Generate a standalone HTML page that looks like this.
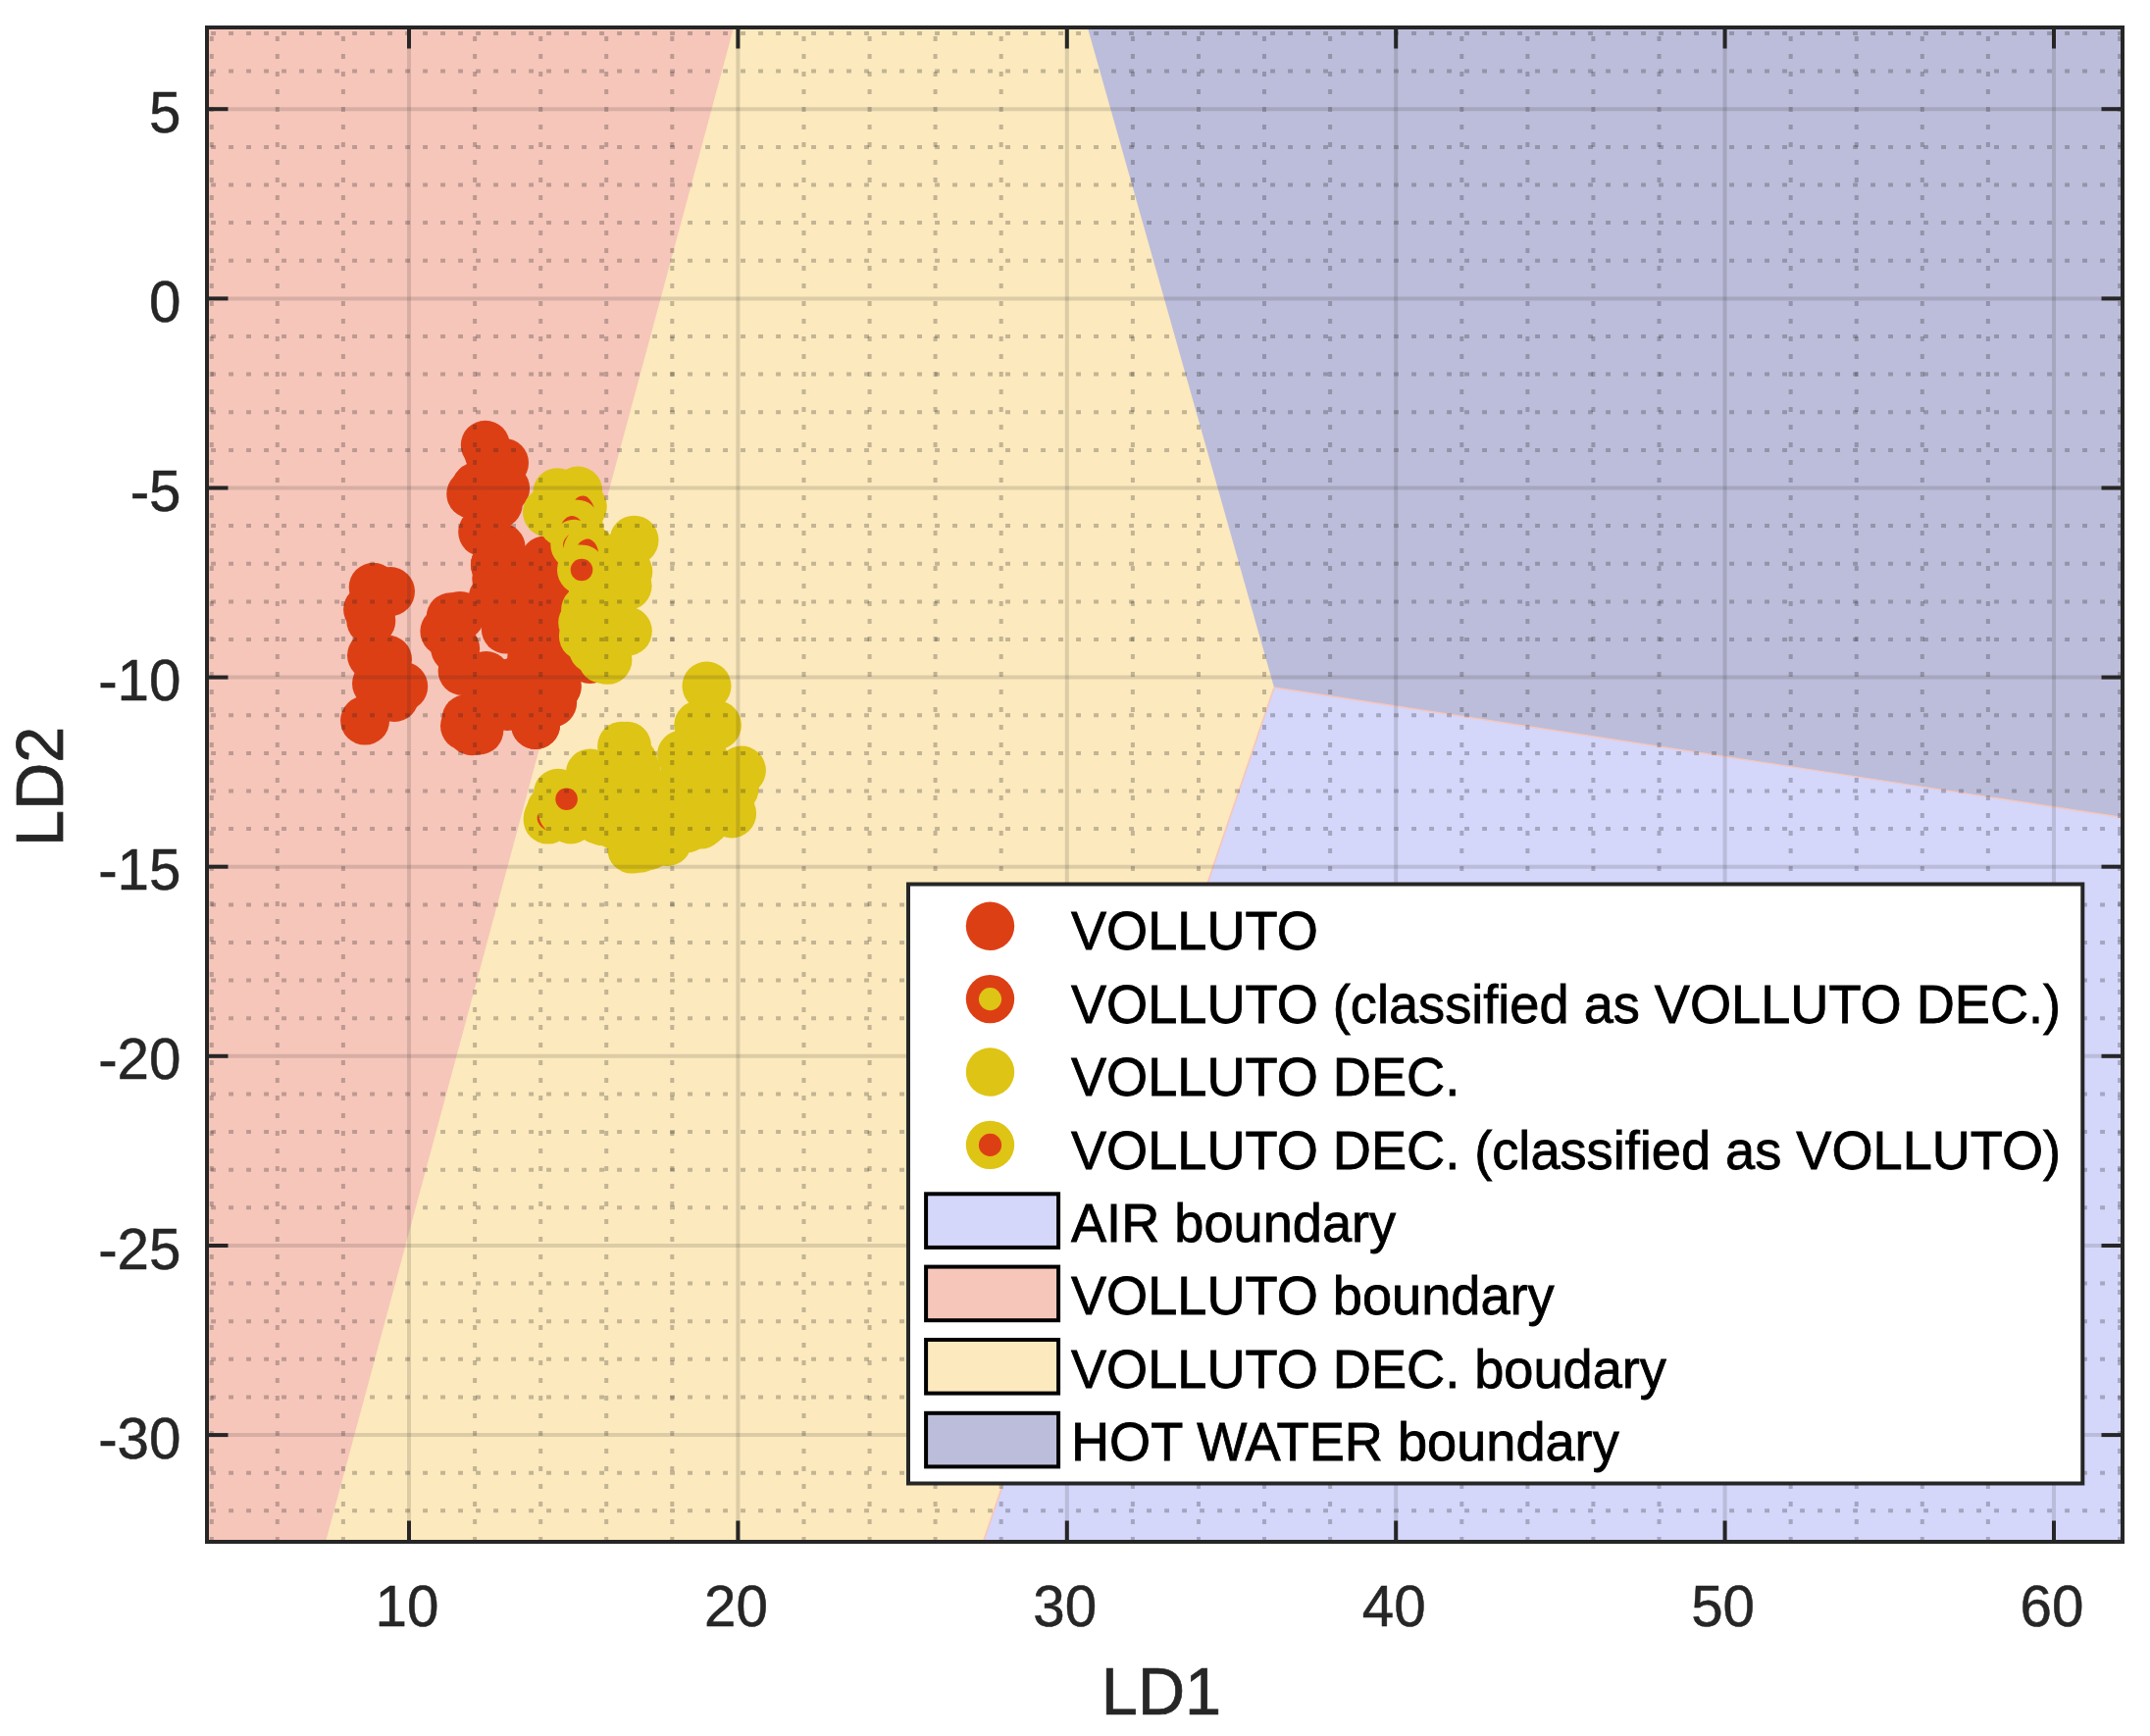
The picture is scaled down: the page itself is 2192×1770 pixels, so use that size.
<!DOCTYPE html><html><head><meta charset="utf-8"><title>LD1 LD2</title>
<style>html,body{margin:0;padding:0;background:#fff;overflow:hidden}svg{display:block}text{font-family:"Liberation Sans",Arial,sans-serif}</style></head><body>
<svg width="2192" height="1770" viewBox="0 0 2192 1770">
<rect x="0" y="0" width="2192" height="1770" fill="#fff"/>
<g id="regions">
<rect x="211.0" y="28.0" width="1953.0" height="1544.0" fill="#FCE9BD"/>
<polygon points="211.0,28.0 748.0,28.0 332.0,1572.0 211.0,1572.0" fill="#F6C6BA"/>
<polygon points="1299.0,701.0 1339.0,641.0 2164.0,773.5 2164.0,1572.0 1002.5,1572.0" fill="#D4D6FA"/>
<polyline points="1002.5,1572.0 1299.0,701.0" fill="none" stroke="#F6C6BA" stroke-width="1.6"/>
<polygon points="1108.8,28.0 2164.0,28.0 2164.0,833.5 1299.0,701.0" fill="#BCBDDA"/>
<polyline points="1299.0,701.0 2164.0,833.5" fill="none" stroke="#F6C6BA" stroke-width="1.4"/>
</g>
<g id="markers">
<g fill="#DD3F15">
<circle cx="380.7" cy="598.8" r="25"/>
<circle cx="398.0" cy="603.1" r="25"/>
<circle cx="375.1" cy="621.4" r="25"/>
<circle cx="378.3" cy="632.9" r="25"/>
<circle cx="395.0" cy="672.5" r="25"/>
<circle cx="379.0" cy="668.2" r="25"/>
<circle cx="411.2" cy="699.9" r="25"/>
<circle cx="384.0" cy="697.0" r="25"/>
<circle cx="402.0" cy="711.0" r="25"/>
<circle cx="372.1" cy="734.6" r="25"/>
<circle cx="504.9" cy="576.0" r="25"/>
<circle cx="510.0" cy="568.8" r="25"/>
<circle cx="507.2" cy="597.6" r="25"/>
<circle cx="558.3" cy="571.4" r="25"/>
<circle cx="459.6" cy="629.3" r="25"/>
<circle cx="453.4" cy="643.7" r="25"/>
<circle cx="469.0" cy="627.9" r="25"/>
<circle cx="459.6" cy="649.5" r="25"/>
<circle cx="464.2" cy="661.3" r="25"/>
<circle cx="471.6" cy="684.0" r="25"/>
<circle cx="475.5" cy="733.0" r="25"/>
<circle cx="474.0" cy="740.2" r="25"/>
<circle cx="481.2" cy="745.2" r="25"/>
<circle cx="488.4" cy="744.5" r="25"/>
<circle cx="546.0" cy="738.9" r="25"/>
<circle cx="567.6" cy="699.9" r="25"/>
<circle cx="560.4" cy="717.2" r="25"/>
<circle cx="515.8" cy="641.5" r="25"/>
<circle cx="495.6" cy="689.1" r="25"/>
<circle cx="515.8" cy="697.0" r="25"/>
<circle cx="542.3" cy="669.6" r="25"/>
<circle cx="502.8" cy="609.1" r="25"/>
<circle cx="543.2" cy="609.1" r="25"/>
<circle cx="548.9" cy="633.6" r="25"/>
<circle cx="554.7" cy="655.2" r="25"/>
<circle cx="560.4" cy="676.8" r="25"/>
<circle cx="517.2" cy="720.0" r="25"/>
<circle cx="502.8" cy="712.8" r="25"/>
<circle cx="531.6" cy="712.8" r="25"/>
<circle cx="495.6" cy="717.2" r="25"/>
<circle cx="531.6" cy="691.2" r="25"/>
<circle cx="538.8" cy="648.0" r="25"/>
<circle cx="528.8" cy="626.4" r="25"/>
<circle cx="494.8" cy="453.8" r="25"/>
<circle cx="514.0" cy="471.9" r="25"/>
<circle cx="480.3" cy="503.6" r="25"/>
<circle cx="485.5" cy="496.4" r="25"/>
<circle cx="498.4" cy="461.9" r="25"/>
<circle cx="515.1" cy="497.9" r="25"/>
<circle cx="507.8" cy="513.7" r="25"/>
<circle cx="492.2" cy="542.5" r="25"/>
<circle cx="510.7" cy="558.4" r="25"/>
<circle cx="504.9" cy="575.6" r="25"/>
<circle cx="506.3" cy="590.0" r="25"/>
<circle cx="555.3" cy="571.6" r="25"/>
<circle cx="499.1" cy="482.0" r="25"/>
<circle cx="497.7" cy="525.2" r="25"/>
<circle cx="552.4" cy="590.0" r="25"/>
<circle cx="555.3" cy="604.4" r="25"/>
<circle cx="552.4" cy="623.2" r="25"/>
<circle cx="539.5" cy="597.2" r="25"/>
<circle cx="530.8" cy="618.8" r="25"/>
<circle cx="559.6" cy="640.4" r="25"/>
<circle cx="538.0" cy="647.6" r="25"/>
<circle cx="567.7" cy="699.9" r="25"/>
<circle cx="563.2" cy="716.3" r="25"/>
<circle cx="546.1" cy="738.9" r="25"/>
<circle cx="601.4" cy="672.0" r="25"/>
</g>
<g fill="#DEC415">
<circle cx="568.3" cy="502.2" r="25"/>
<circle cx="589.2" cy="500.5" r="25"/>
<circle cx="558.0" cy="522.3" r="25"/>
<circle cx="586.3" cy="555.5" r="25"/>
<circle cx="593.0" cy="581.0" r="25"/>
<circle cx="597.1" cy="621.7" r="25"/>
<circle cx="594.2" cy="634.7" r="25"/>
<circle cx="593.8" cy="516.6" r="25"/>
<circle cx="590.6" cy="539.6" r="25"/>
<circle cx="646.5" cy="550.7" r="25"/>
<circle cx="640.3" cy="582.8" r="25"/>
<circle cx="639.6" cy="597.2" r="25"/>
<circle cx="638.8" cy="643.3" r="25"/>
<circle cx="574.0" cy="532.4" r="25"/>
<circle cx="618.7" cy="574.2" r="25"/>
<circle cx="617.2" cy="597.2" r="25"/>
<circle cx="617.2" cy="626.0" r="25"/>
<circle cx="610.0" cy="647.6" r="25"/>
<circle cx="602.8" cy="561.2" r="25"/>
<circle cx="619.4" cy="672.8" r="25"/>
<circle cx="639.8" cy="643.6" r="25"/>
<circle cx="594.9" cy="648.6" r="25"/>
<circle cx="605.0" cy="661.6" r="25"/>
<circle cx="614.3" cy="671.7" r="25"/>
<circle cx="620.8" cy="651.5" r="25"/>
<circle cx="720.5" cy="699.5" r="25"/>
<circle cx="712.3" cy="739.4" r="25"/>
<circle cx="730.9" cy="739.4" r="25"/>
<circle cx="695.0" cy="769.6" r="25"/>
<circle cx="755.9" cy="785.5" r="25"/>
<circle cx="746.1" cy="829.4" r="25"/>
<circle cx="714.4" cy="840.6" r="25"/>
<circle cx="634.1" cy="760.7" r="25"/>
<circle cx="639.0" cy="760.7" r="25"/>
<circle cx="645.3" cy="776.8" r="25"/>
<circle cx="648.9" cy="786.9" r="25"/>
<circle cx="601.8" cy="788.4" r="25"/>
<circle cx="569.0" cy="808.8" r="25"/>
<circle cx="577.6" cy="814.7" r="25"/>
<circle cx="561.8" cy="825.8" r="25"/>
<circle cx="559.0" cy="833.0" r="25"/>
<circle cx="558.6" cy="835.6" r="25"/>
<circle cx="581.9" cy="835.4" r="25"/>
<circle cx="609.3" cy="835.4" r="25"/>
<circle cx="615.1" cy="837.3" r="25"/>
<circle cx="620.8" cy="812.8" r="25"/>
<circle cx="635.2" cy="805.6" r="25"/>
<circle cx="649.6" cy="820.0" r="25"/>
<circle cx="664.0" cy="827.2" r="25"/>
<circle cx="678.4" cy="812.8" r="25"/>
<circle cx="692.8" cy="820.0" r="25"/>
<circle cx="707.2" cy="805.6" r="25"/>
<circle cx="728.8" cy="798.4" r="25"/>
<circle cx="718.8" cy="776.8" r="25"/>
<circle cx="664.0" cy="848.8" r="25"/>
<circle cx="685.6" cy="848.8" r="25"/>
<circle cx="628.0" cy="841.6" r="25"/>
<circle cx="700.0" cy="844.5" r="25"/>
<circle cx="592.0" cy="820.0" r="25"/>
<circle cx="721.6" cy="820.0" r="25"/>
<circle cx="697.2" cy="792.7" r="25"/>
<circle cx="644.2" cy="865.6" r="25"/>
<circle cx="652.5" cy="864.7" r="25"/>
<circle cx="660.9" cy="862.2" r="25"/>
<circle cx="680.3" cy="858.0" r="25"/>
<circle cx="719.0" cy="836.8" r="25"/>
<circle cx="748.6" cy="804.2" r="25"/>
</g>
<g fill="#DD3F15">
<path d="M586.27,509.38 C589.87,505.78 595.63,503.62 599.96,507.94 C603.56,511.54 605.00,515.14 605.72,518.02 C602.84,512.98 597.07,509.38 586.27,509.38 Z" />
<path d="M572.59,533.87 C575.47,528.10 579.79,525.94 583.39,525.94 C586.99,526.38 589.87,528.10 592.03,530.99 C588.43,529.26 579.79,528.39 572.59,533.87 Z" />
<path d="M589.15,555.47 C592.03,551.15 597.07,548.56 601.40,549.71 C606.44,551.87 609.32,556.91 610.04,562.67 C606.44,558.35 599.96,554.75 589.15,555.47 Z" />
<path d="M580.08,545.10 C574.75,549.71 573.31,554.03 574.46,558.64 C575.18,554.03 576.62,549.71 580.08,545.10 Z" />
<path d="M548.81,829.83 C545.93,834.44 548.09,842.36 557.74,846.97 C552.84,842.36 549.96,837.32 548.81,829.83 Z" />
</g>
<circle cx="593.0" cy="581.0" r="11.3" fill="#DD3F15"/>
<circle cx="577.6" cy="814.7" r="11.3" fill="#DD3F15"/>
</g>
<g id="grid" fill="none" stroke="#262626">
<g stroke-opacity="0.15" stroke-width="4">
<line x1="417.0" y1="28.0" x2="417.0" y2="1572.0"/>
<line x1="752.4" y1="28.0" x2="752.4" y2="1572.0"/>
<line x1="1087.8" y1="28.0" x2="1087.8" y2="1572.0"/>
<line x1="1423.2" y1="28.0" x2="1423.2" y2="1572.0"/>
<line x1="1758.6" y1="28.0" x2="1758.6" y2="1572.0"/>
<line x1="2094.0" y1="28.0" x2="2094.0" y2="1572.0"/>
<line x1="211.0" y1="1463.1" x2="2164.0" y2="1463.1"/>
<line x1="211.0" y1="1270.0" x2="2164.0" y2="1270.0"/>
<line x1="211.0" y1="1076.8" x2="2164.0" y2="1076.8"/>
<line x1="211.0" y1="883.7" x2="2164.0" y2="883.7"/>
<line x1="211.0" y1="690.6" x2="2164.0" y2="690.6"/>
<line x1="211.0" y1="497.5" x2="2164.0" y2="497.5"/>
<line x1="211.0" y1="304.4" x2="2164.0" y2="304.4"/>
<line x1="211.0" y1="111.2" x2="2164.0" y2="111.2"/>
</g>
<g stroke-opacity="0.27" stroke-width="4" stroke-dasharray="4.9 13.1">
<line x1="215.8" y1="1572.0" x2="215.8" y2="28.0"/>
<line x1="282.8" y1="1572.0" x2="282.8" y2="28.0"/>
<line x1="349.9" y1="1572.0" x2="349.9" y2="28.0"/>
<line x1="484.1" y1="1572.0" x2="484.1" y2="28.0"/>
<line x1="551.2" y1="1572.0" x2="551.2" y2="28.0"/>
<line x1="618.2" y1="1572.0" x2="618.2" y2="28.0"/>
<line x1="685.3" y1="1572.0" x2="685.3" y2="28.0"/>
<line x1="819.5" y1="1572.0" x2="819.5" y2="28.0"/>
<line x1="886.6" y1="1572.0" x2="886.6" y2="28.0"/>
<line x1="953.6" y1="1572.0" x2="953.6" y2="28.0"/>
<line x1="1020.7" y1="1572.0" x2="1020.7" y2="28.0"/>
<line x1="1154.9" y1="1572.0" x2="1154.9" y2="28.0"/>
<line x1="1222.0" y1="1572.0" x2="1222.0" y2="28.0"/>
<line x1="1289.0" y1="1572.0" x2="1289.0" y2="28.0"/>
<line x1="1356.1" y1="1572.0" x2="1356.1" y2="28.0"/>
<line x1="1490.3" y1="1572.0" x2="1490.3" y2="28.0"/>
<line x1="1557.4" y1="1572.0" x2="1557.4" y2="28.0"/>
<line x1="1624.4" y1="1572.0" x2="1624.4" y2="28.0"/>
<line x1="1691.5" y1="1572.0" x2="1691.5" y2="28.0"/>
<line x1="1825.7" y1="1572.0" x2="1825.7" y2="28.0"/>
<line x1="1892.8" y1="1572.0" x2="1892.8" y2="28.0"/>
<line x1="1959.8" y1="1572.0" x2="1959.8" y2="28.0"/>
<line x1="2026.9" y1="1572.0" x2="2026.9" y2="28.0"/>
<line x1="2161.1" y1="1572.0" x2="2161.1" y2="28.0"/>
<line x1="2164.0" y1="1540.3" x2="211.0" y2="1540.3"/>
<line x1="2164.0" y1="1501.7" x2="211.0" y2="1501.7"/>
<line x1="2164.0" y1="1424.5" x2="211.0" y2="1424.5"/>
<line x1="2164.0" y1="1385.8" x2="211.0" y2="1385.8"/>
<line x1="2164.0" y1="1347.2" x2="211.0" y2="1347.2"/>
<line x1="2164.0" y1="1308.6" x2="211.0" y2="1308.6"/>
<line x1="2164.0" y1="1231.3" x2="211.0" y2="1231.3"/>
<line x1="2164.0" y1="1192.7" x2="211.0" y2="1192.7"/>
<line x1="2164.0" y1="1154.1" x2="211.0" y2="1154.1"/>
<line x1="2164.0" y1="1115.5" x2="211.0" y2="1115.5"/>
<line x1="2164.0" y1="1038.2" x2="211.0" y2="1038.2"/>
<line x1="2164.0" y1="999.6" x2="211.0" y2="999.6"/>
<line x1="2164.0" y1="961.0" x2="211.0" y2="961.0"/>
<line x1="2164.0" y1="922.4" x2="211.0" y2="922.4"/>
<line x1="2164.0" y1="845.1" x2="211.0" y2="845.1"/>
<line x1="2164.0" y1="806.5" x2="211.0" y2="806.5"/>
<line x1="2164.0" y1="767.9" x2="211.0" y2="767.9"/>
<line x1="2164.0" y1="729.2" x2="211.0" y2="729.2"/>
<line x1="2164.0" y1="652.0" x2="211.0" y2="652.0"/>
<line x1="2164.0" y1="613.4" x2="211.0" y2="613.4"/>
<line x1="2164.0" y1="574.7" x2="211.0" y2="574.7"/>
<line x1="2164.0" y1="536.1" x2="211.0" y2="536.1"/>
<line x1="2164.0" y1="458.9" x2="211.0" y2="458.9"/>
<line x1="2164.0" y1="420.2" x2="211.0" y2="420.2"/>
<line x1="2164.0" y1="381.6" x2="211.0" y2="381.6"/>
<line x1="2164.0" y1="343.0" x2="211.0" y2="343.0"/>
<line x1="2164.0" y1="265.7" x2="211.0" y2="265.7"/>
<line x1="2164.0" y1="227.1" x2="211.0" y2="227.1"/>
<line x1="2164.0" y1="188.5" x2="211.0" y2="188.5"/>
<line x1="2164.0" y1="149.9" x2="211.0" y2="149.9"/>
<line x1="2164.0" y1="72.6" x2="211.0" y2="72.6"/>
<line x1="2164.0" y1="34.0" x2="211.0" y2="34.0"/>
</g></g>
<g id="axes" stroke="#262626" stroke-width="4" fill="none">
<rect x="211.0" y="28.0" width="1953.0" height="1544.0"/>
<line x1="417.0" y1="1572.0" x2="417.0" y2="1550.5"/><line x1="417.0" y1="28.0" x2="417.0" y2="49.5"/>
<line x1="752.4" y1="1572.0" x2="752.4" y2="1550.5"/><line x1="752.4" y1="28.0" x2="752.4" y2="49.5"/>
<line x1="1087.8" y1="1572.0" x2="1087.8" y2="1550.5"/><line x1="1087.8" y1="28.0" x2="1087.8" y2="49.5"/>
<line x1="1423.2" y1="1572.0" x2="1423.2" y2="1550.5"/><line x1="1423.2" y1="28.0" x2="1423.2" y2="49.5"/>
<line x1="1758.6" y1="1572.0" x2="1758.6" y2="1550.5"/><line x1="1758.6" y1="28.0" x2="1758.6" y2="49.5"/>
<line x1="2094.0" y1="1572.0" x2="2094.0" y2="1550.5"/><line x1="2094.0" y1="28.0" x2="2094.0" y2="49.5"/>
<line x1="211.0" y1="1463.1" x2="232.5" y2="1463.1"/><line x1="2164.0" y1="1463.1" x2="2142.5" y2="1463.1"/>
<line x1="211.0" y1="1270.0" x2="232.5" y2="1270.0"/><line x1="2164.0" y1="1270.0" x2="2142.5" y2="1270.0"/>
<line x1="211.0" y1="1076.8" x2="232.5" y2="1076.8"/><line x1="2164.0" y1="1076.8" x2="2142.5" y2="1076.8"/>
<line x1="211.0" y1="883.7" x2="232.5" y2="883.7"/><line x1="2164.0" y1="883.7" x2="2142.5" y2="883.7"/>
<line x1="211.0" y1="690.6" x2="232.5" y2="690.6"/><line x1="2164.0" y1="690.6" x2="2142.5" y2="690.6"/>
<line x1="211.0" y1="497.5" x2="232.5" y2="497.5"/><line x1="2164.0" y1="497.5" x2="2142.5" y2="497.5"/>
<line x1="211.0" y1="304.4" x2="232.5" y2="304.4"/><line x1="2164.0" y1="304.4" x2="2142.5" y2="304.4"/>
<line x1="211.0" y1="111.2" x2="232.5" y2="111.2"/><line x1="2164.0" y1="111.2" x2="2142.5" y2="111.2"/>
</g>
<g id="ticklabels" fill="#262626" stroke="#262626" stroke-width="0.5" font-size="58.33">
<text transform="translate(415.0,1658.3) scale(1,1.03)" text-anchor="middle">10</text>
<text transform="translate(750.4,1658.3) scale(1,1.03)" text-anchor="middle">20</text>
<text transform="translate(1085.8,1658.3) scale(1,1.03)" text-anchor="middle">30</text>
<text transform="translate(1421.2,1658.3) scale(1,1.03)" text-anchor="middle">40</text>
<text transform="translate(1756.6,1658.3) scale(1,1.03)" text-anchor="middle">50</text>
<text transform="translate(2092.0,1658.3) scale(1,1.03)" text-anchor="middle">60</text>
<text transform="translate(184.5,1486.7) scale(1,1.03)" text-anchor="end">-30</text>
<text transform="translate(184.5,1293.6) scale(1,1.03)" text-anchor="end">-25</text>
<text transform="translate(184.5,1100.4) scale(1,1.03)" text-anchor="end">-20</text>
<text transform="translate(184.5,907.3) scale(1,1.03)" text-anchor="end">-15</text>
<text transform="translate(184.5,714.2) scale(1,1.03)" text-anchor="end">-10</text>
<text transform="translate(184.5,521.1) scale(1,1.03)" text-anchor="end">-5</text>
<text transform="translate(184.5,328.0) scale(1,1.03)" text-anchor="end">0</text>
<text transform="translate(184.5,134.8) scale(1,1.03)" text-anchor="end">5</text>
</g>
<g id="axlabels" fill="#262626" stroke="#262626" stroke-width="0.7" font-size="66.67">
<text transform="translate(1184.0,1748.4) scale(1,1.03)" text-anchor="middle">LD1</text>
<text transform="translate(63.9,801.8) rotate(-90) scale(1,1.03)" text-anchor="middle">LD2</text>
</g>
<g id="legend">
<rect x="926.0" y="901.5" width="1197.3000000000002" height="611.0" fill="#fff" stroke="#262626" stroke-width="4"/>
<circle cx="1009.5" cy="944.3" r="24.7" fill="#DD3F15"/>
<circle cx="1009.5" cy="1018.6" r="24.7" fill="#DD3F15"/><circle cx="1009.5" cy="1018.6" r="11.6" fill="#DEC415"/>
<circle cx="1009.5" cy="1093.0" r="24.7" fill="#DEC415"/>
<circle cx="1009.5" cy="1167.4" r="24.7" fill="#DEC415"/><circle cx="1009.5" cy="1167.4" r="11.6" fill="#DD3F15"/>
<rect x="944.1" y="1217.3" width="135" height="54.6" fill="#D4D6FA" stroke="#000" stroke-width="4"/>
<rect x="944.1" y="1291.6" width="135" height="54.6" fill="#F6C6BA" stroke="#000" stroke-width="4"/>
<rect x="944.1" y="1366.0" width="135" height="54.6" fill="#FCE9BD" stroke="#000" stroke-width="4"/>
<rect x="944.1" y="1440.8" width="135" height="54.6" fill="#BCBDDA" stroke="#000" stroke-width="4"/>
<g fill="#000" stroke="#000" stroke-width="0.8" font-size="54.17">
<text transform="translate(1092.0,968.2) scale(1,1.03)" text-anchor="start">VOLLUTO</text>
<text transform="translate(1092.0,1042.8) scale(1,1.03)" text-anchor="start">VOLLUTO (classified as VOLLUTO DEC.)</text>
<text transform="translate(1092.0,1117.2) scale(1,1.03)" text-anchor="start">VOLLUTO DEC.</text>
<text transform="translate(1092.0,1191.6) scale(1,1.03)" text-anchor="start">VOLLUTO DEC. (classified as VOLLUTO)</text>
<text transform="translate(1092.0,1265.6) scale(1,1.03)" text-anchor="start">AIR boundary</text>
<text transform="translate(1092.0,1340.3) scale(1,1.03)" text-anchor="start">VOLLUTO boundary</text>
<text transform="translate(1092.0,1414.8) scale(1,1.03)" text-anchor="start">VOLLUTO DEC. boudary</text>
<text transform="translate(1092.0,1489.4) scale(1,1.03)" text-anchor="start">HOT WATER boundary</text>
</g></g>
</svg></body></html>
